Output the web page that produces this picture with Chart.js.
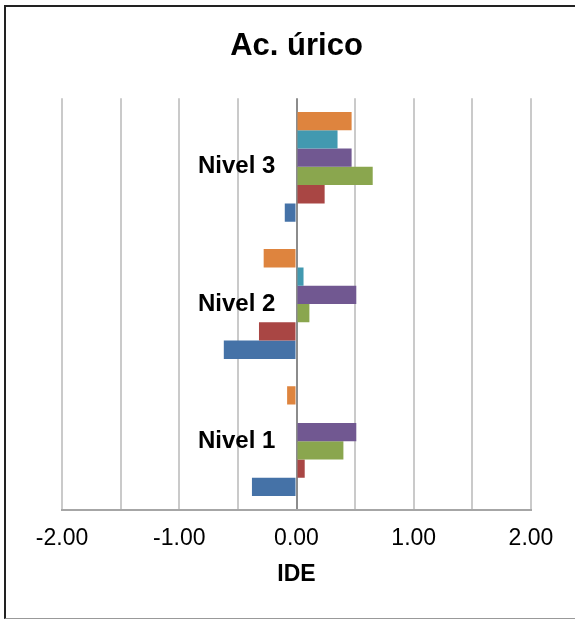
<!DOCTYPE html>
<html>
<head>
<meta charset="utf-8">
<script src="https://cdn.jsdelivr.net/npm/chart.js@4/dist/chart.umd.min.js"></script>
<style>
  body { margin: 0; background: #fff; }
  #wrap { position: relative; width: 575px; height: 620px; overflow: hidden; }
  #frame { position: absolute; left: 4px; top: 5px; width: 620px; height: 614px; box-sizing: border-box;
           border: 2px solid #222; border-bottom: 1px solid #999; pointer-events: none; }
</style>
</head>
<body>
<div id="wrap">
  <canvas id="c" width="575" height="620"></canvas>
  <div id="frame"></div>
</div>
<script>
// categories, top to bottom as drawn
const categories = ['Nivel 3', 'Nivel 2', 'Nivel 1'];

// series values per category (same order as categories)
const serie1 = [-0.10, -0.62, -0.38];
const serie2 = [0.24, -0.32, 0.07];
const serie3 = [0.65, 0.11, 0.40];
const serie4 = [0.47, 0.51, 0.51];
const serie5 = [0.35, 0.06, 0.00];
const serie6 = [0.47, -0.28, -0.08];

const xTicks = [-2, -1, 0, 1, 2];

const font = '"Liberation Sans", Arial, sans-serif';

// Excel draws series 1 at the bottom of each band, so list them top first
const datasets = [
  { label: 'Serie 6', data: serie6, backgroundColor: '#DE843E' },
  { label: 'Serie 5', data: serie5, backgroundColor: '#4299B0' },
  { label: 'Serie 4', data: serie4, backgroundColor: '#715891' },
  { label: 'Serie 3', data: serie3, backgroundColor: '#8AA64E' },
  { label: 'Serie 2', data: serie2, backgroundColor: '#A94644' },
  { label: 'Serie 1', data: serie1, backgroundColor: '#4572A7' }
];

new Chart(document.getElementById('c'), {
  type: 'bar',
  data: { labels: categories, datasets: datasets },
  options: {
    indexAxis: 'y',
    responsive: false,
    animation: false,
    devicePixelRatio: 1,
    layout: { padding: { left: 62, right: 44, top: 0, bottom: 32 } },
    datasets: { bar: { categoryPercentage: 0.8, barPercentage: 1.0, borderWidth: 0 } },
    plugins: {
      legend: { display: false },
      tooltip: { enabled: false },
      title: {
        display: true,
        text: 'Ac. úrico',
        color: '#000',
        font: { family: font, size: 31, weight: 'bold' },
        padding: { top: 28, bottom: 33 }
      }
    },
    scales: {
      x: {
        min: -2, max: 2,
        grid: {
          drawTicks: false,
          lineWidth: 2,
          color: ctx => (ctx.tick && ctx.tick.value === 0) ? '#8C8C8C' : '#CACACA'
        },
        border: { display: true, color: '#A6A6A6', width: 2 },
        ticks: {
          stepSize: 0.5,
          padding: 15,
          color: '#000',
          font: { family: font, size: 23 },
          maxRotation: 0,
          autoSkip: false,
          callback: v => xTicks.includes(v) ? v.toFixed(2) : ''
        },
        title: {
          display: true,
          text: 'IDE',
          color: '#000',
          font: { family: font, size: 23, weight: 'bold' },
          padding: { top: -7, bottom: 0 }
        }
      },
      y: {
        // labels end just left of the zero line, as in the Excel chart
        position: { x: -0.18 },
        grid: { display: false, drawTicks: false },
        border: { display: false },
        ticks: {
          color: '#000',
          font: { family: font, size: 24, weight: 'bold' }
        }
      }
    }
  }
});
</script>
</body>
</html>
